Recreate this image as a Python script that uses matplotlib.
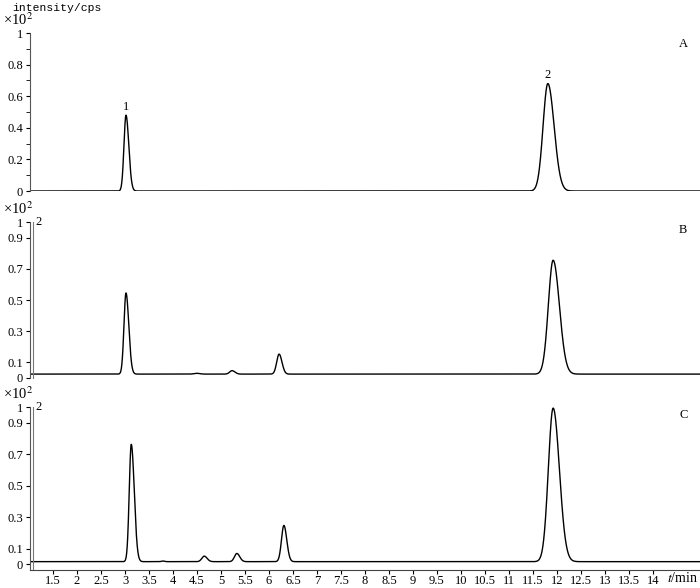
import numpy as np
import matplotlib
matplotlib.use("Agg")
import matplotlib.pyplot as plt

plt.rcParams['font.family'] = ['Liberation Serif', 'DejaVu Serif']
plt.rcParams['mathtext.fontset'] = 'stix'

# Peak tables (t in min, height in x10^2 cps)
panel_names = ['A', 'B', 'C']
baselines = [0.0, 0.025, 0.018]

a_times = [3.02, 11.81]
a_heights = [0.48, 0.68]
a_sig_left = [0.042, 0.10]
a_sig_right = [0.058, 0.13]

b_times = [3.02, 4.50, 5.23, 6.21, 11.92]
b_heights = [0.52, 0.005, 0.022, 0.128, 0.73]
b_sig_left = [0.042, 0.06, 0.05, 0.050, 0.10]
b_sig_right = [0.058, 0.06, 0.06, 0.060, 0.13]

c_times = [3.13, 3.79, 4.65, 5.33, 6.31, 11.92]
c_heights = [0.745, 0.004, 0.035, 0.052, 0.23, 0.975]
c_sig_left = [0.042, 0.03, 0.05, 0.05, 0.050, 0.10]
c_sig_right = [0.062, 0.03, 0.06, 0.06, 0.060, 0.13]

peak_labels = ['1', '2']          # numbered peaks in panel A
x_ticks = np.arange(1.5, 14.01, 0.5)
yticks_a = [0, 0.2, 0.4, 0.6, 0.8, 1]
yticks_bc = [0, 0.1, 0.3, 0.5, 0.7, 0.9, 1]

tables = [
    (a_times, a_heights, a_sig_left, a_sig_right),
    (b_times, b_heights, b_sig_left, b_sig_right),
    (c_times, c_heights, c_sig_left, c_sig_right),
]


def trace(t, base, times, heights, sl, sr):
    y = np.full_like(t, base)
    for t0, h, s1, s2 in zip(times, heights, sl, sr):
        s = np.where(t < t0, s1, s2)
        y += h * np.exp(-0.5 * ((t - t0) / s) ** 2)
    return y


def tick_fmt(v):
    return '0' if v == 0 else ('1' if v == 1 else f'{v:.1f}')


fig = plt.figure(figsize=(7.0, 5.88), dpi=100)
W, H = 700.0, 588.0
# (top px, bottom px of axes) for each panel
boxes = [(33, 191), (222, 378), (407, 570)]
xlim = (1.02, 14.98)
t = np.linspace(xlim[0], xlim[1], 4000)

axes = []
for i, (top, bot) in enumerate(boxes):
    ax = fig.add_axes([30 / W, 1 - bot / H, 670 / W, (bot - top) / H])
    axes.append(ax)
    times, heights, sl, sr = tables[i]
    ax.plot(t, trace(t, baselines[i], times, heights, sl, sr), color='black', lw=1.0)
    ax.set_xlim(*xlim)
    if i == 2:
        ax.set_ylim(-0.035, 1)
    else:
        ax.set_ylim(0, 1)
    for s in ['top', 'right']:
        ax.spines[s].set_visible(False)
    if i < 2:
        ax.spines['bottom'].set_visible(False)
        ax.set_xticks([])
    else:
        ax.set_xticks(x_ticks)
        ax.set_xticklabels([f'{v:g}' for v in x_ticks], fontsize=9)
        ax.tick_params(axis='x', length=3, width=0.8, pad=0.5, colors='black')
        ax.spines['bottom'].set_color('#444444')
    yt = yticks_a if i == 0 else yticks_bc
    ax.set_yticks(yt)
    ax.set_yticklabels([tick_fmt(v) for v in yt], fontsize=9)
    if i == 0:
        ax.set_yticks(np.arange(0.1, 1.0, 0.2), minor=True)
        ax.tick_params(axis='y', which='minor', length=3, width=0.6)
    ax.tick_params(axis='y', length=3, width=0.8, pad=2)
    ax.spines['left'].set_color('#555555')
    ax.spines['left'].set_linewidth(0.8)
    if i > 0:
        # second (double) vertical axis line and the stray "2"
        ax.plot([0.004, 0.004], [0, 1], transform=ax.transAxes, color='#777777',
                lw=0.8, clip_on=False)
        ax.text(0.008, 1.0, '2', transform=ax.transAxes, fontsize=9,
                ha='left', va='center')
    ax.text(0.975, 0.93 if i == 0 else 0.95, panel_names[i], transform=ax.transAxes,
            fontsize=9, ha='center', va='center')
    fig.text(3 / W, 1 - (top - 13) / H, '×10$^{2}$', fontsize=10.5, ha='left', va='center')

# peak numbers in panel A
for lab, t0, h in zip(peak_labels, a_times, a_heights):
    axes[0].annotate(lab, (t0, h), xytext=(0, 1.5), textcoords='offset points',
                     ha='center', va='bottom', fontsize=9)

fig.text(12 / W, 1 - 8 / H, 'intensity/cps', fontsize=8.2, family='Liberation Mono',
         ha='left', va='center')
fig.text(698 / W, 1 - 578 / H, '$t$/min', fontsize=10, ha='right', va='center')

fig.savefig('out.png', dpi=100)
